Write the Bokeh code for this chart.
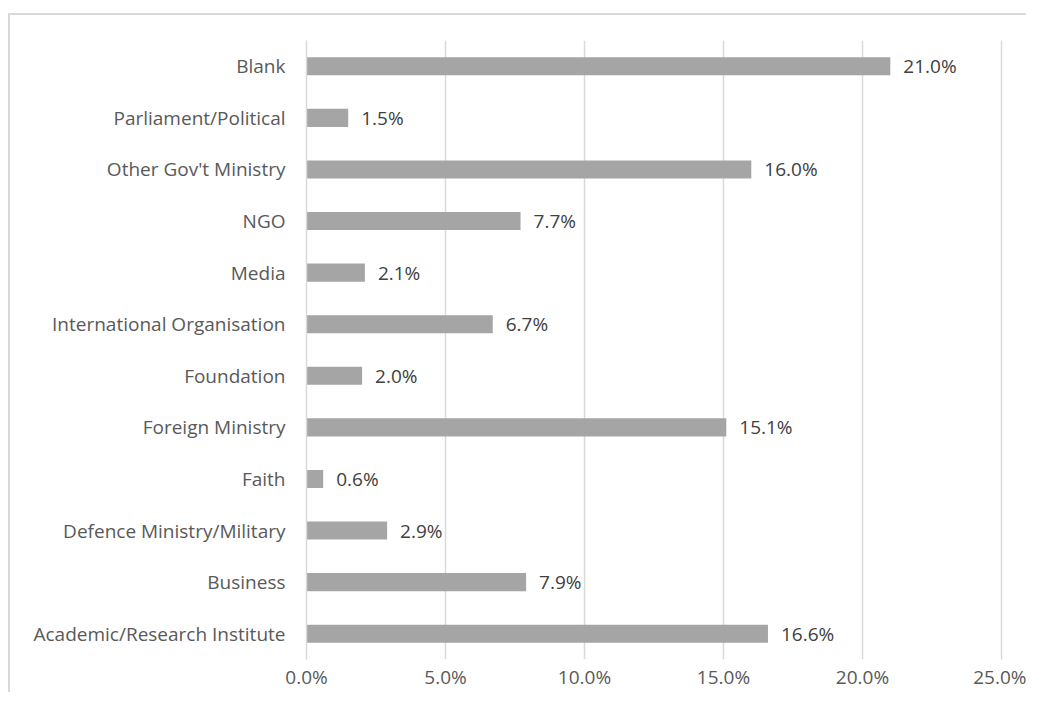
from bokeh.plotting import figure
from bokeh.models import ColumnDataSource, NumeralTickFormatter, FixedTicker, Range1d, CategoricalAxis
from bokeh.embed import file_html
from bokeh.resources import INLINE
from bokeh.core.properties import value

categories = ["Academic/Research Institute", "Business", "Defence Ministry/Military", "Faith",
              "Foreign Ministry", "Foundation", "International Organisation", "Media", "NGO",
              "Other Gov't Ministry", "Parliament/Political", "Blank"]
percent = [16.6, 7.9, 2.9, 0.6, 15.1, 2.0, 6.7, 2.1, 7.7, 16.0, 1.5, 21.0]
x_ticks = [0, 5, 10, 15, 20, 25]

FONT = "Open Sans"
FS = "19px"
GRID = "#D9D9D9"

src = ColumnDataSource(dict(
    cat=categories,
    val=[v / 100 for v in percent],
    lbl=[f"{v:.1f}%" for v in percent],
))

p = figure(width=1026, height=692, y_range=categories, x_range=Range1d(0, 0.25),
           output_backend="svg", toolbar_location=None,
           min_border_left=306, min_border_right=25, min_border_top=40, min_border_bottom=30)
p.outline_line_color = None
p.background_fill_color = "white"
p.border_fill_color = None
p.styles = {
    "background": "linear-gradient(#D9D9D9,#D9D9D9) 9px 13px / 1100px 2px no-repeat, "
                  "linear-gradient(#D9D9D9,#D9D9D9) 8px 13px / 2px 1000px no-repeat, #ffffff"
}

p.hbar(y="cat", right="val", left=0, height=0.35, source=src, color="#A5A5A5", line_color=None)
p.text(x="val", y="cat", text="lbl", source=src, x_offset=13, text_align="left",
       text_baseline="middle", text_font=value(FONT), text_font_size=FS, text_color="#404040")

p.xaxis.ticker = FixedTicker(ticks=[t / 100 for t in x_ticks])
p.xaxis.formatter = NumeralTickFormatter(format="0.0%")
p.xaxis.axis_line_color = None
p.xaxis.major_tick_line_color = None
p.xaxis.minor_tick_line_color = None
p.xaxis.major_tick_out = 0
p.xaxis.major_tick_in = 0
p.xaxis.major_label_standoff = 4
p.xaxis.major_label_text_font = FONT
p.xaxis.major_label_text_font_size = FS
p.xaxis.major_label_text_color = "#595959"

p.yaxis.axis_line_color = GRID
p.yaxis.axis_line_width = 1.5
p.yaxis.major_tick_line_color = None
p.yaxis.minor_tick_line_color = None
p.yaxis.major_tick_out = 0
p.yaxis.major_tick_in = 0
p.yaxis.major_label_standoff = 21
p.yaxis.major_label_text_font = FONT
p.yaxis.major_label_text_font_size = FS
p.yaxis.major_label_text_color = "#595959"

right_axis = CategoricalAxis(axis_line_color=GRID, axis_line_width=1.5,
                             major_tick_line_color=None, minor_tick_line_color=None,
                             major_tick_out=0, major_tick_in=0, major_label_standoff=0,
                             major_label_text_font_size="0px", major_label_text_color=None)
p.add_layout(right_axis, "right")

p.xgrid.grid_line_color = GRID
p.xgrid.grid_line_width = 1.5
p.ygrid.grid_line_color = None

open("out.html", "w").write(file_html(p, INLINE))
